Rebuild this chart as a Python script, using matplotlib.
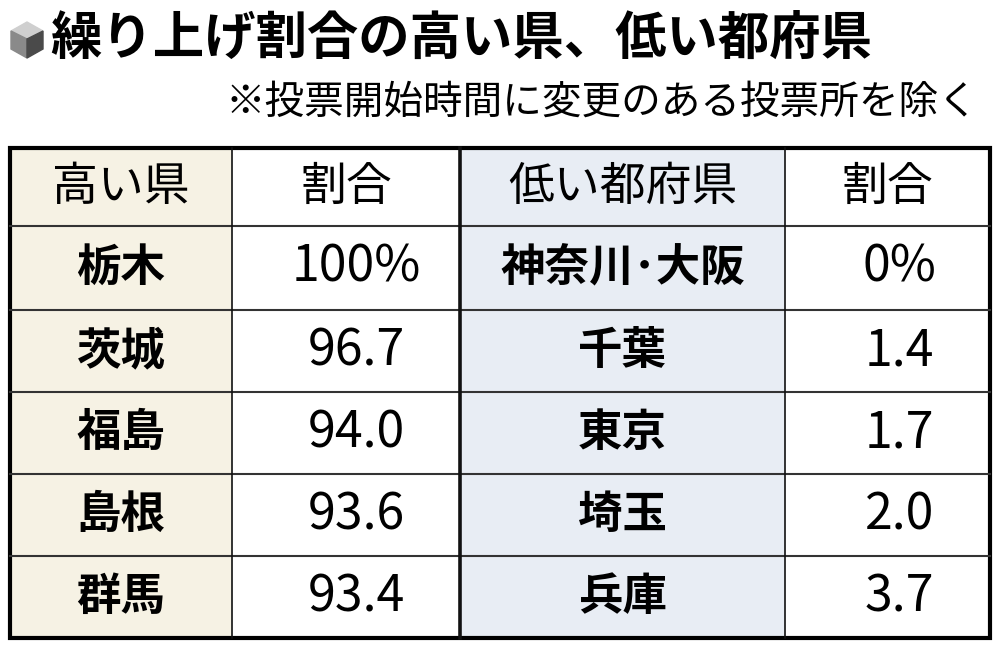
import matplotlib
matplotlib.use("Agg")
import matplotlib.pyplot as plt
from matplotlib.patches import Rectangle, Polygon

plt.rcParams['font.family'] = ['Noto Sans CJK JP', 'DejaVu Sans']

title = "繰り上げ割合の高い県、低い都府県"
subtitle = "※投票開始時間に変更のある投票所を除く"
headers = ["高い県", "割合", "低い都府県", "割合"]
high_pref = ["栃木", "茨城", "福島", "島根", "群馬"]
high_val = ["100%", "96.7", "94.0", "93.6", "93.4"]
low_pref = ["神奈川･大阪", "千葉", "東京", "埼玉", "兵庫"]
low_val = ["0%", "1.4", "1.7", "2.0", "3.7"]

fig = plt.figure(figsize=(10, 6.49), dpi=100)
ax = fig.add_axes([0, 0, 1, 1])
ax.set_xlim(0, 1000); ax.set_ylim(649, 0); ax.axis('off')

# icon cube
cx, cy = 27, 40
ax.add_patch(Polygon([[cx-16, cy-9], [cx, cy-18], [cx+16, cy-9], [cx, cy-1]], color='#cfcfcf'))
ax.add_patch(Polygon([[cx-16, cy-9], [cx, cy-1], [cx, cy+18], [cx-16, cy+9]], color='#8a8a8a'))
ax.add_patch(Polygon([[cx+16, cy-9], [cx, cy-1], [cx, cy+18], [cx+16, cy+9]], color='#4a4a4a'))
ax.text(50, 38, title, fontsize=37, fontweight='bold', va='center', ha='left')
ax.text(978, 103, subtitle, fontsize=28.5, va='center', ha='right')

xs = [10, 232, 460, 785, 990]
ys = [148, 226, 310, 392, 474, 556, 638]
fills = ['#f6f2e4', 'white', '#e8edf4', 'white']
for c in range(4):
    ax.add_patch(Rectangle((xs[c], ys[0]), xs[c+1]-xs[c], ys[-1]-ys[0], color=fills[c], zorder=0))
for y in ys[1:-1]:
    ax.plot([xs[0], xs[-1]], [y, y], color='#333333', lw=1.5)
for i, x in enumerate(xs[1:-1]):
    ax.plot([x, x], [ys[0], ys[-1]], color='#111111', lw=2.6 if i == 1 else 1.2)
ax.add_patch(Rectangle((xs[0], ys[0]), xs[-1]-xs[0], ys[-1]-ys[0], fill=False, ec='black', lw=3))

centers = [(xs[c]+xs[c+1])/2 for c in range(4)]
for c, h in enumerate(headers):
    ax.text(centers[c], (ys[0]+ys[1])/2, h, fontsize=33, ha='center', va='center')
for r in range(5):
    yc = (ys[r+1]+ys[r+2])/2
    ax.text(centers[0], yc, high_pref[r], fontsize=32, fontweight='bold', ha='center', va='center')
    ax.text(centers[1]+10, yc, high_val[r], fontsize=36, ha='center', va='center')
    ax.text(centers[2], yc, low_pref[r], fontsize=32, fontweight='bold', ha='center', va='center')
    ax.text(centers[3]+12, yc, low_val[r], fontsize=36, ha='center', va='center')

fig.savefig("out.png", dpi=100)
